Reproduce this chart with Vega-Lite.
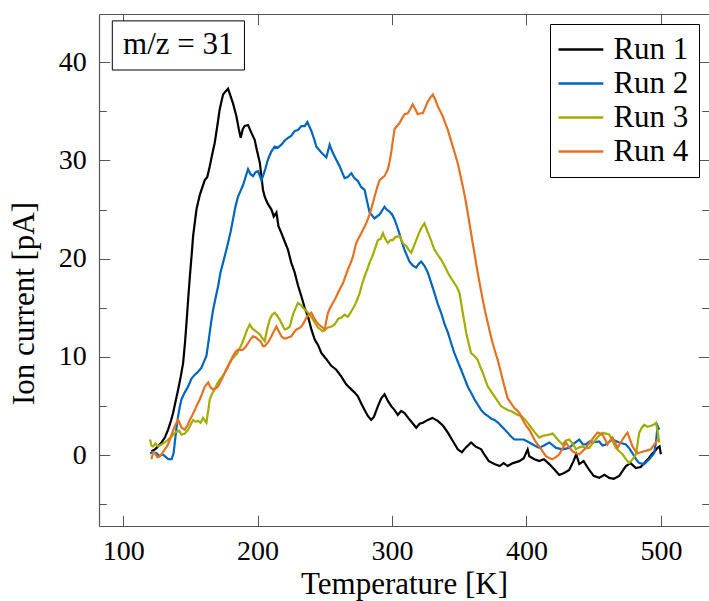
{
"$schema": "https://vega.github.io/schema/vega-lite/v6.json",
"width": 610, "height": 512,
"autosize": {"type": "none"},
"padding": {"left": 99, "top": 14, "right": 0, "bottom": 75},
"config": {
  "font": "Liberation Serif",
  "view": {"stroke": null},
  "axis": {"grid": false, "domainColor": "#555", "domainWidth": 1.2, "tickColor": "#555", "tickWidth": 1, "labelFont": "Liberation Serif", "labelFontSize": 28, "labelColor": "black", "titleFont": "Liberation Serif", "titleFontSize": 31, "titleFontWeight": "normal", "titleColor": "black"},
  "legend": {"orient": "top-right", "offset": 10, "strokeColor": "black", "fillColor": "white", "padding": 10, "symbolType": "M-1.6,0H1.6", "symbolSize": 784, "symbolStrokeWidth": 2.5, "symbolOffset": 5.4, "labelFontSize": 31, "labelFont": "Liberation Serif", "labelColor": "black", "rowPadding": 2, "labelOffset": 17}
},
"datasets": {"curves": [
{"run":"Run 1","T":121,"I":0.4},{"run":"Run 1","T":123.6,"I":0.6},{"run":"Run 1","T":126,"I":0.9},{"run":"Run 1","T":128.5,"I":1.3},{"run":"Run 1","T":131,"I":1.8},{"run":"Run 1","T":133.4,"I":2.6},{"run":"Run 1","T":135.5,"I":3.5},{"run":"Run 1","T":137.1,"I":4.3},{"run":"Run 1","T":139,"I":5.5},{"run":"Run 1","T":140.9,"I":6.7},{"run":"Run 1","T":142.8,"I":8.0},{"run":"Run 1","T":144.6,"I":9.4},{"run":"Run 1","T":146,"I":11.5},{"run":"Run 1","T":147.1,"I":13.5},{"run":"Run 1","T":148.4,"I":16},{"run":"Run 1","T":149.6,"I":18.2},{"run":"Run 1","T":151,"I":20.5},{"run":"Run 1","T":152,"I":22.3},{"run":"Run 1","T":154.5,"I":25},{"run":"Run 1","T":157,"I":26.5},{"run":"Run 1","T":160.7,"I":28.0},{"run":"Run 1","T":162.5,"I":28.3},{"run":"Run 1","T":164.4,"I":29.4},{"run":"Run 1","T":166.5,"I":30.8},{"run":"Run 1","T":168.1,"I":31.8},{"run":"Run 1","T":170,"I":33.5},{"run":"Run 1","T":171.8,"I":35.2},{"run":"Run 1","T":174.3,"I":36.7},{"run":"Run 1","T":176,"I":37.0},{"run":"Run 1","T":178,"I":37.3},{"run":"Run 1","T":180,"I":36.5},{"run":"Run 1","T":181.7,"I":35.8},{"run":"Run 1","T":184.2,"I":34.5},{"run":"Run 1","T":186,"I":33.2},{"run":"Run 1","T":187.4,"I":32.3},{"run":"Run 1","T":189,"I":33.2},{"run":"Run 1","T":190.4,"I":33.5},{"run":"Run 1","T":192.9,"I":33.6},{"run":"Run 1","T":195.4,"I":32.8},{"run":"Run 1","T":197.8,"I":32.1},{"run":"Run 1","T":199.5,"I":31},{"run":"Run 1","T":201.6,"I":29.8},{"run":"Run 1","T":204,"I":27},{"run":"Run 1","T":205.3,"I":26.3},{"run":"Run 1","T":207.5,"I":25.6},{"run":"Run 1","T":210.3,"I":25},{"run":"Run 1","T":212,"I":24.3},{"run":"Run 1","T":214,"I":24.7},{"run":"Run 1","T":215.5,"I":23.3},{"run":"Run 1","T":217.7,"I":22.6},{"run":"Run 1","T":220,"I":21.8},{"run":"Run 1","T":222.6,"I":20.9},{"run":"Run 1","T":225,"I":19.6},{"run":"Run 1","T":227.6,"I":18.6},{"run":"Run 1","T":230,"I":17.3},{"run":"Run 1","T":232.5,"I":16.2},{"run":"Run 1","T":235,"I":15.0},{"run":"Run 1","T":237.5,"I":14.1},{"run":"Run 1","T":240,"I":12.8},{"run":"Run 1","T":242.4,"I":11.8},{"run":"Run 1","T":245,"I":11.2},{"run":"Run 1","T":247.4,"I":10.4},{"run":"Run 1","T":251,"I":9.8},{"run":"Run 1","T":254.8,"I":9.1},{"run":"Run 1","T":258.5,"I":8.7},{"run":"Run 1","T":262.3,"I":8.0},{"run":"Run 1","T":266,"I":7.2},{"run":"Run 1","T":269.7,"I":6.7},{"run":"Run 1","T":272,"I":6.4},{"run":"Run 1","T":274.6,"I":6.0},{"run":"Run 1","T":277,"I":5.3},{"run":"Run 1","T":279.6,"I":4.6},{"run":"Run 1","T":282,"I":4.0},{"run":"Run 1","T":284.5,"I":3.6},{"run":"Run 1","T":286.5,"I":3.9},{"run":"Run 1","T":289.5,"I":5.0},{"run":"Run 1","T":292,"I":5.8},{"run":"Run 1","T":294.4,"I":6.2},{"run":"Run 1","T":297,"I":5.5},{"run":"Run 1","T":299.4,"I":5.0},{"run":"Run 1","T":301.9,"I":4.6},{"run":"Run 1","T":304.3,"I":4.1},{"run":"Run 1","T":306.8,"I":4.5},{"run":"Run 1","T":309.3,"I":4.3},{"run":"Run 1","T":312,"I":3.8},{"run":"Run 1","T":315,"I":3.3},{"run":"Run 1","T":318,"I":2.8},{"run":"Run 1","T":320.5,"I":3.2},{"run":"Run 1","T":323,"I":3.3},{"run":"Run 1","T":326.6,"I":3.6},{"run":"Run 1","T":330,"I":3.8},{"run":"Run 1","T":334,"I":3.5},{"run":"Run 1","T":338,"I":3.0},{"run":"Run 1","T":341.5,"I":2.3},{"run":"Run 1","T":345,"I":1.5},{"run":"Run 1","T":348.9,"I":0.6},{"run":"Run 1","T":352,"I":0.3},{"run":"Run 1","T":355,"I":0.8},{"run":"Run 1","T":358.8,"I":1.3},{"run":"Run 1","T":362,"I":0.9},{"run":"Run 1","T":366.3,"I":0.6},{"run":"Run 1","T":369,"I":0.0},{"run":"Run 1","T":372,"I":-0.6},{"run":"Run 1","T":376.2,"I":-0.9},{"run":"Run 1","T":380,"I":-1.1},{"run":"Run 1","T":383,"I":-0.8},{"run":"Run 1","T":386,"I":-1.1},{"run":"Run 1","T":390,"I":-0.8},{"run":"Run 1","T":394.7,"I":-0.6},{"run":"Run 1","T":398,"I":-0.3},{"run":"Run 1","T":400.9,"I":0.6},{"run":"Run 1","T":402.1,"I":-0.1},{"run":"Run 1","T":405.9,"I":-0.4},{"run":"Run 1","T":409.5,"I":-0.6},{"run":"Run 1","T":413,"I":-0.4},{"run":"Run 1","T":417,"I":-0.9},{"run":"Run 1","T":420.5,"I":-1.4},{"run":"Run 1","T":424.4,"I":-2.0},{"run":"Run 1","T":428,"I":-1.8},{"run":"Run 1","T":431.8,"I":-1.5},{"run":"Run 1","T":435,"I":-0.6},{"run":"Run 1","T":437,"I":0.1},{"run":"Run 1","T":439.3,"I":-0.9},{"run":"Run 1","T":442.5,"I":-0.6},{"run":"Run 1","T":446.7,"I":-1.5},{"run":"Run 1","T":450,"I":-2.1},{"run":"Run 1","T":454.1,"I":-2.3},{"run":"Run 1","T":458,"I":-2.0},{"run":"Run 1","T":461.6,"I":-2.3},{"run":"Run 1","T":465,"I":-2.4},{"run":"Run 1","T":469,"I":-2.1},{"run":"Run 1","T":472,"I":-1.5},{"run":"Run 1","T":474,"I":-1.1},{"run":"Run 1","T":477.5,"I":-0.8},{"run":"Run 1","T":481.4,"I":-1.3},{"run":"Run 1","T":485,"I":-1.2},{"run":"Run 1","T":488.9,"I":-0.6},{"run":"Run 1","T":491,"I":-0.3},{"run":"Run 1","T":493.8,"I":0.2},{"run":"Run 1","T":495.5,"I":0.4},{"run":"Run 1","T":497.5,"I":0.75},{"run":"Run 1","T":499,"I":0.9},{"run":"Run 1","T":500,"I":0.1},
{"run":"Run 2","T":120,"I":0.2},{"run":"Run 2","T":122.5,"I":0.3},{"run":"Run 2","T":124.8,"I":0.2},{"run":"Run 2","T":127,"I":-0.1},{"run":"Run 2","T":129,"I":0.1},{"run":"Run 2","T":131,"I":-0.1},{"run":"Run 2","T":133.5,"I":-0.4},{"run":"Run 2","T":136,"I":-0.4},{"run":"Run 2","T":137.5,"I":0.2},{"run":"Run 2","T":138.4,"I":1.3},{"run":"Run 2","T":139.7,"I":2.8},{"run":"Run 2","T":140.9,"I":4.0},{"run":"Run 2","T":142.2,"I":5.0},{"run":"Run 2","T":143.4,"I":5.7},{"run":"Run 2","T":145.8,"I":6.4},{"run":"Run 2","T":148.3,"I":7.0},{"run":"Run 2","T":150.8,"I":7.8},{"run":"Run 2","T":153.3,"I":8.2},{"run":"Run 2","T":155.7,"I":8.5},{"run":"Run 2","T":158.2,"I":8.9},{"run":"Run 2","T":160,"I":9.5},{"run":"Run 2","T":161.9,"I":10.1},{"run":"Run 2","T":163.2,"I":11.3},{"run":"Run 2","T":164.4,"I":12.5},{"run":"Run 2","T":165.6,"I":13.7},{"run":"Run 2","T":166.9,"I":14.8},{"run":"Run 2","T":168.7,"I":16.0},{"run":"Run 2","T":170.6,"I":17.2},{"run":"Run 2","T":172.4,"I":18.6},{"run":"Run 2","T":174.3,"I":19.6},{"run":"Run 2","T":176,"I":20.5},{"run":"Run 2","T":178,"I":21.6},{"run":"Run 2","T":180,"I":22.8},{"run":"Run 2","T":181.7,"I":24.0},{"run":"Run 2","T":183.5,"I":25.3},{"run":"Run 2","T":185.4,"I":26.3},{"run":"Run 2","T":187.3,"I":26.9},{"run":"Run 2","T":189.2,"I":27.5},{"run":"Run 2","T":191,"I":28.3},{"run":"Run 2","T":192.9,"I":29.1},{"run":"Run 2","T":194.7,"I":28.6},{"run":"Run 2","T":196.6,"I":28.4},{"run":"Run 2","T":198.5,"I":28.8},{"run":"Run 2","T":200.3,"I":28.9},{"run":"Run 2","T":202.8,"I":28.0},{"run":"Run 2","T":204,"I":28.4},{"run":"Run 2","T":205.9,"I":29.2},{"run":"Run 2","T":207.7,"I":30.1},{"run":"Run 2","T":210.2,"I":30.9},{"run":"Run 2","T":212.7,"I":31.4},{"run":"Run 2","T":215,"I":31.3},{"run":"Run 2","T":217.7,"I":31.6},{"run":"Run 2","T":220,"I":32.0},{"run":"Run 2","T":222.6,"I":32.3},{"run":"Run 2","T":225,"I":32.5},{"run":"Run 2","T":227.6,"I":33.0},{"run":"Run 2","T":230,"I":33.1},{"run":"Run 2","T":232.5,"I":33.5},{"run":"Run 2","T":235,"I":33.5},{"run":"Run 2","T":237,"I":33.9},{"run":"Run 2","T":240,"I":33.0},{"run":"Run 2","T":242,"I":32.2},{"run":"Run 2","T":243.7,"I":31.4},{"run":"Run 2","T":247.4,"I":30.8},{"run":"Run 2","T":251.1,"I":30.3},{"run":"Run 2","T":253.6,"I":31.6},{"run":"Run 2","T":255.5,"I":30.9},{"run":"Run 2","T":257.3,"I":30.4},{"run":"Run 2","T":261,"I":29.4},{"run":"Run 2","T":264.7,"I":28.2},{"run":"Run 2","T":267,"I":28.3},{"run":"Run 2","T":269.7,"I":28.7},{"run":"Run 2","T":272,"I":28.2},{"run":"Run 2","T":274.6,"I":27.9},{"run":"Run 2","T":277,"I":27.3},{"run":"Run 2","T":279.6,"I":27.0},{"run":"Run 2","T":281.5,"I":25.8},{"run":"Run 2","T":283.3,"I":24.7},{"run":"Run 2","T":287,"I":24.1},{"run":"Run 2","T":290.7,"I":24.5},{"run":"Run 2","T":294.4,"I":25.3},{"run":"Run 2","T":296,"I":25.0},{"run":"Run 2","T":298.1,"I":24.8},{"run":"Run 2","T":300,"I":24.5},{"run":"Run 2","T":301.9,"I":24.0},{"run":"Run 2","T":303.7,"I":23.3},{"run":"Run 2","T":305.6,"I":22.5},{"run":"Run 2","T":307.5,"I":21.6},{"run":"Run 2","T":309.3,"I":20.9},{"run":"Run 2","T":313,"I":19.7},{"run":"Run 2","T":315.5,"I":19.3},{"run":"Run 2","T":318,"I":19.1},{"run":"Run 2","T":320,"I":19.5},{"run":"Run 2","T":321.7,"I":19.7},{"run":"Run 2","T":324,"I":19.3},{"run":"Run 2","T":326.6,"I":18.6},{"run":"Run 2","T":329,"I":17.6},{"run":"Run 2","T":331.6,"I":16.5},{"run":"Run 2","T":334,"I":15.4},{"run":"Run 2","T":336.5,"I":14.5},{"run":"Run 2","T":339,"I":13.4},{"run":"Run 2","T":341.5,"I":12.5},{"run":"Run 2","T":344,"I":11.4},{"run":"Run 2","T":346.4,"I":10.4},{"run":"Run 2","T":349,"I":9.5},{"run":"Run 2","T":351.4,"I":8.7},{"run":"Run 2","T":354,"I":7.8},{"run":"Run 2","T":356.3,"I":7.0},{"run":"Run 2","T":359,"I":6.3},{"run":"Run 2","T":361.3,"I":5.7},{"run":"Run 2","T":364,"I":5.1},{"run":"Run 2","T":366.3,"I":4.6},{"run":"Run 2","T":369,"I":4.2},{"run":"Run 2","T":371.2,"I":4.0},{"run":"Run 2","T":374,"I":3.7},{"run":"Run 2","T":376.2,"I":3.6},{"run":"Run 2","T":379,"I":3.3},{"run":"Run 2","T":381.1,"I":3.0},{"run":"Run 2","T":384,"I":2.6},{"run":"Run 2","T":386,"I":2.3},{"run":"Run 2","T":388.5,"I":1.9},{"run":"Run 2","T":391,"I":1.6},{"run":"Run 2","T":394.7,"I":1.6},{"run":"Run 2","T":398,"I":1.6},{"run":"Run 2","T":402.1,"I":1.3},{"run":"Run 2","T":406,"I":1.0},{"run":"Run 2","T":409.5,"I":0.75},{"run":"Run 2","T":413,"I":1.0},{"run":"Run 2","T":417,"I":1.3},{"run":"Run 2","T":422,"I":0.75},{"run":"Run 2","T":426.9,"I":0.6},{"run":"Run 2","T":431.8,"I":0.75},{"run":"Run 2","T":435.5,"I":1.2},{"run":"Run 2","T":439.3,"I":1.6},{"run":"Run 2","T":442,"I":1.1},{"run":"Run 2","T":444.2,"I":1.1},{"run":"Run 2","T":447,"I":1.4},{"run":"Run 2","T":449.2,"I":1.3},{"run":"Run 2","T":454.1,"I":1.4},{"run":"Run 2","T":456.5,"I":1.0},{"run":"Run 2","T":459.1,"I":1.1},{"run":"Run 2","T":462,"I":1.4},{"run":"Run 2","T":464,"I":1.6},{"run":"Run 2","T":469,"I":1.3},{"run":"Run 2","T":474,"I":1.1},{"run":"Run 2","T":476.5,"I":0.7},{"run":"Run 2","T":478.9,"I":0.2},{"run":"Run 2","T":481.5,"I":-0.4},{"run":"Run 2","T":483.9,"I":-0.8},{"run":"Run 2","T":487.6,"I":-0.9},{"run":"Run 2","T":491.3,"I":-0.4},{"run":"Run 2","T":495,"I":0.2},{"run":"Run 2","T":496.5,"I":1.5},{"run":"Run 2","T":497.5,"I":3.0},{"run":"Run 2","T":498.8,"I":2.6},
{"run":"Run 3","T":120,"I":1.6},{"run":"Run 3","T":121,"I":1.0},{"run":"Run 3","T":122.3,"I":0.9},{"run":"Run 3","T":124,"I":1.2},{"run":"Run 3","T":126,"I":0.9},{"run":"Run 3","T":128.5,"I":1.1},{"run":"Run 3","T":131,"I":1.3},{"run":"Run 3","T":133.5,"I":1.6},{"run":"Run 3","T":136,"I":1.9},{"run":"Run 3","T":137.8,"I":2.2},{"run":"Run 3","T":139.7,"I":2.4},{"run":"Run 3","T":141.5,"I":2.5},{"run":"Run 3","T":143.4,"I":2.1},{"run":"Run 3","T":145.8,"I":2.2},{"run":"Run 3","T":148.3,"I":2.6},{"run":"Run 3","T":150.2,"I":3.1},{"run":"Run 3","T":152,"I":3.6},{"run":"Run 3","T":153.9,"I":3.4},{"run":"Run 3","T":155.7,"I":3.5},{"run":"Run 3","T":157.5,"I":3.3},{"run":"Run 3","T":159.4,"I":3.8},{"run":"Run 3","T":161.9,"I":3.3},{"run":"Run 3","T":163.2,"I":4.5},{"run":"Run 3","T":164.4,"I":5.7},{"run":"Run 3","T":166.3,"I":6.3},{"run":"Run 3","T":168.1,"I":6.7},{"run":"Run 3","T":170,"I":7.3},{"run":"Run 3","T":171.8,"I":7.7},{"run":"Run 3","T":173.7,"I":8.0},{"run":"Run 3","T":175.6,"I":8.4},{"run":"Run 3","T":177.4,"I":8.8},{"run":"Run 3","T":179.3,"I":9.4},{"run":"Run 3","T":181,"I":9.8},{"run":"Run 3","T":183,"I":10.1},{"run":"Run 3","T":184.9,"I":10.4},{"run":"Run 3","T":186.7,"I":10.9},{"run":"Run 3","T":188.5,"I":11.4},{"run":"Run 3","T":190.4,"I":12.1},{"run":"Run 3","T":192.3,"I":12.8},{"run":"Run 3","T":194.1,"I":13.3},{"run":"Run 3","T":196,"I":12.9},{"run":"Run 3","T":197.8,"I":12.7},{"run":"Run 3","T":199.7,"I":12.5},{"run":"Run 3","T":201.6,"I":12.3},{"run":"Run 3","T":203.5,"I":11.9},{"run":"Run 3","T":205.3,"I":11.6},{"run":"Run 3","T":207,"I":12.8},{"run":"Run 3","T":209,"I":13.8},{"run":"Run 3","T":210.8,"I":14.3},{"run":"Run 3","T":212.7,"I":14.5},{"run":"Run 3","T":214.5,"I":14.2},{"run":"Run 3","T":216.4,"I":13.8},{"run":"Run 3","T":218.3,"I":13.3},{"run":"Run 3","T":220.1,"I":12.8},{"run":"Run 3","T":222,"I":12.9},{"run":"Run 3","T":223.9,"I":13.1},{"run":"Run 3","T":226.3,"I":14.3},{"run":"Run 3","T":228,"I":14.9},{"run":"Run 3","T":230,"I":15.5},{"run":"Run 3","T":232,"I":15.3},{"run":"Run 3","T":233.7,"I":15.0},{"run":"Run 3","T":235.5,"I":14.8},{"run":"Run 3","T":237.5,"I":14.5},{"run":"Run 3","T":239.3,"I":14.2},{"run":"Run 3","T":241.2,"I":13.8},{"run":"Run 3","T":243,"I":13.4},{"run":"Run 3","T":244.9,"I":13.0},{"run":"Run 3","T":248.6,"I":12.6},{"run":"Run 3","T":250.5,"I":12.8},{"run":"Run 3","T":252.3,"I":13.0},{"run":"Run 3","T":255,"I":13.1},{"run":"Run 3","T":257.3,"I":13.3},{"run":"Run 3","T":260,"I":13.9},{"run":"Run 3","T":262.3,"I":14.0},{"run":"Run 3","T":264.7,"I":14.3},{"run":"Run 3","T":267.2,"I":14.1},{"run":"Run 3","T":269.5,"I":14.6},{"run":"Run 3","T":272.1,"I":15.2},{"run":"Run 3","T":274,"I":15.8},{"run":"Run 3","T":275.9,"I":16.5},{"run":"Run 3","T":277.7,"I":17.4},{"run":"Run 3","T":279.6,"I":18.2},{"run":"Run 3","T":281.5,"I":18.9},{"run":"Run 3","T":283.3,"I":19.6},{"run":"Run 3","T":285.2,"I":20.2},{"run":"Run 3","T":287,"I":20.9},{"run":"Run 3","T":289.5,"I":21.9},{"run":"Run 3","T":291.4,"I":22.0},{"run":"Run 3","T":293.2,"I":22.6},{"run":"Run 3","T":295,"I":22.0},{"run":"Run 3","T":296.9,"I":21.6},{"run":"Run 3","T":298.8,"I":21.9},{"run":"Run 3","T":300.6,"I":21.9},{"run":"Run 3","T":302.5,"I":22.2},{"run":"Run 3","T":305.6,"I":22.3},{"run":"Run 3","T":308,"I":21.6},{"run":"Run 3","T":310.5,"I":21.3},{"run":"Run 3","T":312.5,"I":20.9},{"run":"Run 3","T":314.3,"I":20.6},{"run":"Run 3","T":316,"I":21.2},{"run":"Run 3","T":318,"I":21.9},{"run":"Run 3","T":320,"I":22.6},{"run":"Run 3","T":321.7,"I":23.1},{"run":"Run 3","T":324.1,"I":23.6},{"run":"Run 3","T":326,"I":22.9},{"run":"Run 3","T":327.8,"I":22.3},{"run":"Run 3","T":329.7,"I":21.6},{"run":"Run 3","T":331.6,"I":20.9},{"run":"Run 3","T":334,"I":20.4},{"run":"Run 3","T":336.5,"I":19.9},{"run":"Run 3","T":339,"I":19.3},{"run":"Run 3","T":341.5,"I":18.6},{"run":"Run 3","T":344,"I":18.0},{"run":"Run 3","T":346.4,"I":17.5},{"run":"Run 3","T":348.3,"I":17.1},{"run":"Run 3","T":350.2,"I":16.5},{"run":"Run 3","T":351.4,"I":15.5},{"run":"Run 3","T":352.6,"I":14.5},{"run":"Run 3","T":353.9,"I":13.5},{"run":"Run 3","T":355.1,"I":12.5},{"run":"Run 3","T":357,"I":11.4},{"run":"Run 3","T":358.8,"I":10.4},{"run":"Run 3","T":361.3,"I":10.1},{"run":"Run 3","T":363.7,"I":9.7},{"run":"Run 3","T":365.6,"I":9.0},{"run":"Run 3","T":367.5,"I":8.4},{"run":"Run 3","T":369.3,"I":7.7},{"run":"Run 3","T":371.2,"I":7.0},{"run":"Run 3","T":373.7,"I":6.5},{"run":"Run 3","T":376.2,"I":6.0},{"run":"Run 3","T":378.6,"I":5.5},{"run":"Run 3","T":381.1,"I":5.0},{"run":"Run 3","T":383.5,"I":4.8},{"run":"Run 3","T":386,"I":4.6},{"run":"Run 3","T":388.5,"I":4.5},{"run":"Run 3","T":391,"I":4.3},{"run":"Run 3","T":393.5,"I":4.1},{"run":"Run 3","T":396,"I":4.0},{"run":"Run 3","T":398.4,"I":3.7},{"run":"Run 3","T":400.9,"I":3.3},{"run":"Run 3","T":404.6,"I":2.6},{"run":"Run 3","T":407,"I":2.2},{"run":"Run 3","T":409.5,"I":1.8},{"run":"Run 3","T":413,"I":2.0},{"run":"Run 3","T":417,"I":2.1},{"run":"Run 3","T":419.5,"I":2.2},{"run":"Run 3","T":422,"I":1.8},{"run":"Run 3","T":424.5,"I":1.4},{"run":"Run 3","T":426.9,"I":1.1},{"run":"Run 3","T":429.3,"I":1.5},{"run":"Run 3","T":431.8,"I":1.6},{"run":"Run 3","T":434.3,"I":1.2},{"run":"Run 3","T":436.8,"I":0.6},{"run":"Run 3","T":439.3,"I":0.8},{"run":"Run 3","T":441.7,"I":0.9},{"run":"Run 3","T":444.2,"I":0.7},{"run":"Run 3","T":446.7,"I":0.75},{"run":"Run 3","T":449.2,"I":1.2},{"run":"Run 3","T":451.6,"I":1.6},{"run":"Run 3","T":454.1,"I":2.0},{"run":"Run 3","T":456.6,"I":2.3},{"run":"Run 3","T":459.1,"I":2.2},{"run":"Run 3","T":461.6,"I":2.1},{"run":"Run 3","T":464,"I":1.5},{"run":"Run 3","T":466.5,"I":0.75},{"run":"Run 3","T":469,"I":0.4},{"run":"Run 3","T":471.5,"I":0.1},{"run":"Run 3","T":474,"I":-0.4},{"run":"Run 3","T":476.4,"I":-0.8},{"run":"Run 3","T":479,"I":-0.4},{"run":"Run 3","T":481.4,"I":0.1},{"run":"Run 3","T":482.7,"I":1.2},{"run":"Run 3","T":483.9,"I":2.3},{"run":"Run 3","T":485.8,"I":2.8},{"run":"Run 3","T":487.6,"I":3.1},{"run":"Run 3","T":490,"I":2.9},{"run":"Run 3","T":492.6,"I":3.0},{"run":"Run 3","T":494.5,"I":3.1},{"run":"Run 3","T":496.3,"I":3.3},{"run":"Run 3","T":497.5,"I":2.5},{"run":"Run 3","T":498.8,"I":1.3},
{"run":"Run 4","T":121,"I":-0.4},{"run":"Run 4","T":122.3,"I":0.3},{"run":"Run 4","T":123.6,"I":0.2},{"run":"Run 4","T":125.5,"I":-0.2},{"run":"Run 4","T":127.3,"I":-0.1},{"run":"Run 4","T":129,"I":0.2},{"run":"Run 4","T":131,"I":0.6},{"run":"Run 4","T":133,"I":1.0},{"run":"Run 4","T":134.7,"I":1.6},{"run":"Run 4","T":136.5,"I":2.3},{"run":"Run 4","T":138.4,"I":2.95},{"run":"Run 4","T":140.9,"I":3.6},{"run":"Run 4","T":142.2,"I":3.2},{"run":"Run 4","T":143.4,"I":2.8},{"run":"Run 4","T":145.8,"I":2.6},{"run":"Run 4","T":147.7,"I":3.0},{"run":"Run 4","T":149.6,"I":3.6},{"run":"Run 4","T":151.5,"I":4.1},{"run":"Run 4","T":153.3,"I":4.6},{"run":"Run 4","T":155.2,"I":5.2},{"run":"Run 4","T":157,"I":5.7},{"run":"Run 4","T":158.8,"I":6.3},{"run":"Run 4","T":160.7,"I":7.0},{"run":"Run 4","T":163.2,"I":7.4},{"run":"Run 4","T":165,"I":6.9},{"run":"Run 4","T":166.9,"I":6.7},{"run":"Run 4","T":168.7,"I":6.8},{"run":"Run 4","T":170.6,"I":7.0},{"run":"Run 4","T":172.4,"I":7.5},{"run":"Run 4","T":174.3,"I":8.0},{"run":"Run 4","T":176.2,"I":8.6},{"run":"Run 4","T":178,"I":9.1},{"run":"Run 4","T":180,"I":9.6},{"run":"Run 4","T":181.7,"I":10.1},{"run":"Run 4","T":183.5,"I":10.5},{"run":"Run 4","T":185.4,"I":10.75},{"run":"Run 4","T":187.3,"I":10.7},{"run":"Run 4","T":189.2,"I":10.75},{"run":"Run 4","T":191,"I":11.0},{"run":"Run 4","T":192.9,"I":11.4},{"run":"Run 4","T":194.7,"I":11.8},{"run":"Run 4","T":196.6,"I":12.1},{"run":"Run 4","T":198.5,"I":12.0},{"run":"Run 4","T":200.3,"I":11.8},{"run":"Run 4","T":202.2,"I":11.6},{"run":"Run 4","T":204,"I":11.1},{"run":"Run 4","T":205.3,"I":11.1},{"run":"Run 4","T":207.8,"I":11.5},{"run":"Run 4","T":210.3,"I":12.1},{"run":"Run 4","T":212,"I":12.6},{"run":"Run 4","T":214,"I":13.1},{"run":"Run 4","T":215.8,"I":12.6},{"run":"Run 4","T":217.7,"I":12.1},{"run":"Run 4","T":219.5,"I":11.9},{"run":"Run 4","T":221.4,"I":11.9},{"run":"Run 4","T":223.2,"I":12.0},{"run":"Run 4","T":225.1,"I":12.1},{"run":"Run 4","T":227,"I":12.5},{"run":"Run 4","T":228.8,"I":12.8},{"run":"Run 4","T":230.6,"I":12.9},{"run":"Run 4","T":232.5,"I":13.1},{"run":"Run 4","T":234.4,"I":13.5},{"run":"Run 4","T":236.3,"I":14.0},{"run":"Run 4","T":238.1,"I":14.3},{"run":"Run 4","T":240,"I":14.5},{"run":"Run 4","T":241.8,"I":14.0},{"run":"Run 4","T":243.7,"I":13.6},{"run":"Run 4","T":245.5,"I":13.3},{"run":"Run 4","T":247.4,"I":13.1},{"run":"Run 4","T":249.9,"I":12.8},{"run":"Run 4","T":251,"I":13.6},{"run":"Run 4","T":252.3,"I":14.5},{"run":"Run 4","T":254,"I":15.0},{"run":"Run 4","T":256,"I":15.5},{"run":"Run 4","T":258,"I":16.0},{"run":"Run 4","T":259.7,"I":16.5},{"run":"Run 4","T":261.5,"I":17.0},{"run":"Run 4","T":263.5,"I":17.5},{"run":"Run 4","T":265.3,"I":18.2},{"run":"Run 4","T":267.2,"I":18.9},{"run":"Run 4","T":269,"I":19.5},{"run":"Run 4","T":270.9,"I":20.2},{"run":"Run 4","T":272.1,"I":20.9},{"run":"Run 4","T":273.4,"I":21.6},{"run":"Run 4","T":275.2,"I":22.1},{"run":"Run 4","T":277.1,"I":22.6},{"run":"Run 4","T":279,"I":23.1},{"run":"Run 4","T":280.8,"I":23.6},{"run":"Run 4","T":283.3,"I":24.5},{"run":"Run 4","T":285.2,"I":25.4},{"run":"Run 4","T":287,"I":26.3},{"run":"Run 4","T":288.8,"I":27.2},{"run":"Run 4","T":290.7,"I":28.0},{"run":"Run 4","T":292.5,"I":28.2},{"run":"Run 4","T":294.4,"I":28.4},{"run":"Run 4","T":296.9,"I":29.1},{"run":"Run 4","T":298.2,"I":29.9},{"run":"Run 4","T":299.4,"I":30.8},{"run":"Run 4","T":300.6,"I":32.0},{"run":"Run 4","T":301.9,"I":33.2},{"run":"Run 4","T":303.7,"I":33.5},{"run":"Run 4","T":305.6,"I":33.8},{"run":"Run 4","T":307.5,"I":34.3},{"run":"Run 4","T":309.3,"I":34.7},{"run":"Run 4","T":311.7,"I":34.8},{"run":"Run 4","T":313.5,"I":35.2},{"run":"Run 4","T":315.4,"I":35.7},{"run":"Run 4","T":317.3,"I":35.2},{"run":"Run 4","T":319.2,"I":34.7},{"run":"Run 4","T":321,"I":34.8},{"run":"Run 4","T":322.9,"I":34.8},{"run":"Run 4","T":324.8,"I":35.4},{"run":"Run 4","T":326.6,"I":36.0},{"run":"Run 4","T":328.5,"I":36.4},{"run":"Run 4","T":330.3,"I":36.7},{"run":"Run 4","T":332.2,"I":36.2},{"run":"Run 4","T":334,"I":35.5},{"run":"Run 4","T":335.9,"I":35.0},{"run":"Run 4","T":337.7,"I":34.5},{"run":"Run 4","T":339.6,"I":33.8},{"run":"Run 4","T":341.5,"I":33.1},{"run":"Run 4","T":343.3,"I":32.3},{"run":"Run 4","T":345.2,"I":31.4},{"run":"Run 4","T":347,"I":30.6},{"run":"Run 4","T":348.9,"I":29.7},{"run":"Run 4","T":350.7,"I":28.6},{"run":"Run 4","T":352.6,"I":27.4},{"run":"Run 4","T":354.5,"I":26.1},{"run":"Run 4","T":356.3,"I":24.7},{"run":"Run 4","T":358.2,"I":23.1},{"run":"Run 4","T":360,"I":21.6},{"run":"Run 4","T":361.9,"I":20.1},{"run":"Run 4","T":363.7,"I":18.6},{"run":"Run 4","T":365.6,"I":17.2},{"run":"Run 4","T":367.5,"I":15.8},{"run":"Run 4","T":369.3,"I":14.6},{"run":"Run 4","T":371.2,"I":13.5},{"run":"Run 4","T":373,"I":12.4},{"run":"Run 4","T":374.9,"I":11.4},{"run":"Run 4","T":376.8,"I":10.5},{"run":"Run 4","T":378.6,"I":9.7},{"run":"Run 4","T":380.5,"I":8.7},{"run":"Run 4","T":382.3,"I":7.7},{"run":"Run 4","T":384.2,"I":6.7},{"run":"Run 4","T":386,"I":5.8},{"run":"Run 4","T":388.5,"I":5.3},{"run":"Run 4","T":391,"I":4.8},{"run":"Run 4","T":392.8,"I":4.6},{"run":"Run 4","T":394.7,"I":4.3},{"run":"Run 4","T":396.5,"I":3.8},{"run":"Run 4","T":398.4,"I":3.3},{"run":"Run 4","T":400.3,"I":2.9},{"run":"Run 4","T":402.1,"I":2.6},{"run":"Run 4","T":404,"I":2.1},{"run":"Run 4","T":405.9,"I":1.6},{"run":"Run 4","T":407.7,"I":1.2},{"run":"Run 4","T":409.5,"I":0.9},{"run":"Run 4","T":412,"I":0.4},{"run":"Run 4","T":414.5,"I":-0.1},{"run":"Run 4","T":417,"I":-0.3},{"run":"Run 4","T":419.4,"I":-0.4},{"run":"Run 4","T":421.9,"I":-0.2},{"run":"Run 4","T":424.4,"I":0.1},{"run":"Run 4","T":426.9,"I":0.7},{"run":"Run 4","T":429.3,"I":1.3},{"run":"Run 4","T":431.8,"I":0.8},{"run":"Run 4","T":434.3,"I":0.4},{"run":"Run 4","T":436.8,"I":0.2},{"run":"Run 4","T":439.3,"I":0.1},{"run":"Run 4","T":441.7,"I":0.4},{"run":"Run 4","T":444.2,"I":0.75},{"run":"Run 4","T":446,"I":1.1},{"run":"Run 4","T":447.9,"I":1.4},{"run":"Run 4","T":450.4,"I":1.9},{"run":"Run 4","T":452.9,"I":2.3},{"run":"Run 4","T":454.8,"I":2.2},{"run":"Run 4","T":456.6,"I":2.1},{"run":"Run 4","T":458.5,"I":1.6},{"run":"Run 4","T":460.3,"I":1.1},{"run":"Run 4","T":462.2,"I":1.5},{"run":"Run 4","T":464,"I":1.8},{"run":"Run 4","T":466,"I":1.3},{"run":"Run 4","T":467.8,"I":0.75},{"run":"Run 4","T":469.7,"I":1.2},{"run":"Run 4","T":471.5,"I":1.6},{"run":"Run 4","T":473.4,"I":2.0},{"run":"Run 4","T":475.2,"I":2.3},{"run":"Run 4","T":477,"I":1.6},{"run":"Run 4","T":478.9,"I":0.9},{"run":"Run 4","T":480.8,"I":0.5},{"run":"Run 4","T":482.7,"I":0.2},{"run":"Run 4","T":485.2,"I":0.3},{"run":"Run 4","T":487.6,"I":0.4},{"run":"Run 4","T":490,"I":0.5},{"run":"Run 4","T":492.6,"I":0.6},{"run":"Run 4","T":494.5,"I":1.0},{"run":"Run 4","T":496.3,"I":1.3},{"run":"Run 4","T":497.5,"I":1.6}
]},
"layer": [
  {
    "data": {"name": "curves"},
    "mark": {"type": "line", "strokeWidth": 2.2},
    "encoding": {
      "x": {"field": "T", "type": "quantitative", "scale": {"domain": [82, 535.8], "nice": false, "zero": false},
            "axis": {"orient": "bottom", "values": [100, 200, 300, 400, 500], "tickSize": -10.7, "labelPadding": 21.7, "title": "Temperature [K]", "titlePadding": 4}},
      "y": {"field": "I", "type": "quantitative", "scale": {"domain": [-7.2, 44.9], "nice": false, "zero": false},
            "axis": {"orient": "left", "values": [-5, 0, 5, 10, 15, 20, 25, 30, 35, 40], "tickSize": {"expr": "datum.value % 10 === 0 ? -10.7 : -7.3"}, "labelExpr": "datum.value % 10 === 0 ? datum.label : ''", "labelPadding": 23.5, "title": "Ion current [pA]", "titlePadding": 18, "titleY": 289}},
      "color": {"field": "run", "type": "nominal", "scale": {"domain": ["Run 1", "Run 2", "Run 3", "Run 4"], "range": ["#000000", "#0065BD", "#A2AD00", "#E37222"]}, "legend": {"title": null, "labelFont": "Liberation Serif"}}
    }
  },
  {
    "data": {"values": [{}]},
    "mark": {"type": "rect", "fill": "white", "stroke": "black", "strokeWidth": 1},
    "encoding": {
      "x": {"datum": 91.9, "type": "quantitative", "axis": {"orient": "top", "values": [100, 200, 300, 400, 500], "tickSize": -10.7, "labels": false, "title": null}},
      "x2": {"datum": 190.2},
      "y": {"datum": 39.2, "type": "quantitative", "axis": {"orient": "right", "values": [-5, 0, 5, 10, 15, 20, 25, 30, 35, 40], "tickSize": {"expr": "datum.value % 10 === 0 ? -10.7 : -7.3"}, "labels": false, "domain": false, "title": null}},
      "y2": {"datum": 44.2}
    }
  },
  {
    "data": {"values": [{}]},
    "mark": {"type": "text", "fontSize": 31, "font": "Liberation Serif", "align": "center", "baseline": "middle", "color": "black"},
    "encoding": {
      "x": {"datum": 141, "type": "quantitative", "axis": null},
      "y": {"datum": 41.7, "type": "quantitative", "axis": null},
      "text": {"value": "m/z = 31"}
    }
  }
],
"resolve": {"axis": {"x": "independent", "y": "independent"}}
}
